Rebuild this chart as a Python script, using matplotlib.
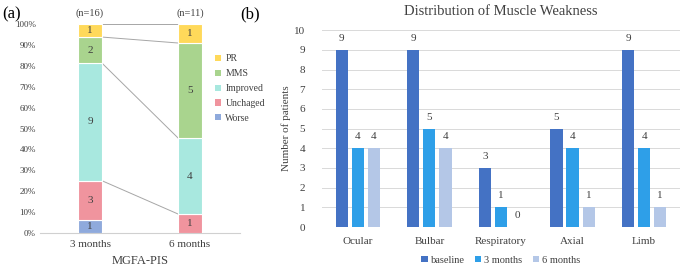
import matplotlib.pyplot as plt
import numpy as np
from matplotlib.patches import Patch

plt.rcParams['font.family'] = ['Liberation Serif', 'DejaVu Serif']

# Panel (a) data: MGFA-PIS counts
timepoints = ['3 months', '6 months']
n_totals = [16, 11]
pis_labels = ['Worse', 'Unchaged', 'Improved', 'MMS', 'PR']
pis_counts = {
    'Worse': [1, 0],
    'Unchaged': [3, 1],
    'Improved': [9, 4],
    'MMS': [2, 5],
    'PR': [1, 1],
}
pis_colors = {
    'Worse': '#8FAADC',
    'Unchaged': '#F0949E',
    'Improved': '#A8E8DF',
    'MMS': '#A9D48E',
    'PR': '#FFD95A',
}

# Panel (b) data: distribution of muscle weakness
regions = ['Ocular', 'Bulbar', 'Respiratory', 'Axial', 'Limb']
baseline = [9, 9, 3, 5, 9]
m3 = [4, 5, 1, 4, 4]
m6 = [4, 4, 0, 1, 1]
series_names = ['baseline', '3 months', '6 months']
series_colors = ['#4472C4', '#2E9FE8', '#B4C7E7']

fig = plt.figure(figsize=(6.82, 2.69), dpi=100)

# ---------------- panel (a) ----------------
axa = fig.add_axes([0.0587, 0.1338, 0.2933, 0.777])
x = np.arange(len(timepoints))
bw = 0.24
bottoms = np.zeros(len(timepoints))
bounds = []
for lab in pis_labels:
    frac = np.array(pis_counts[lab]) / np.array(n_totals) * 100
    axa.bar(x, frac, bw, bottom=bottoms, color=pis_colors[lab],
            edgecolor='white', linewidth=0.8, zorder=3)
    for i in range(len(x)):
        if pis_counts[lab][i] > 0:
            axa.text(x[i], bottoms[i] + frac[i] / 2, str(pis_counts[lab][i]),
                     ha='center', va='center', fontsize=8, color='#404040', zorder=4)
    bottoms = bottoms + frac
    bounds.append(bottoms.copy())

# connector lines between segment boundaries (skip the first, as in the original)
for b in bounds[1:]:
    axa.plot([x[0] + bw / 2, x[1] - bw / 2], [b[0], b[1]],
             color='#A6A6A6', linewidth=0.7, zorder=2)

for i in range(len(x)):
    axa.text(x[i], 103, f'(n={n_totals[i]})', ha='center', va='bottom',
             fontsize=7.5, color='#404040', clip_on=False)

axa.set_xlim(-0.5, 1.5)
axa.set_ylim(0, 100)
axa.set_yticks(np.arange(0, 101, 10))
axa.set_yticklabels([f'{v}%' for v in range(0, 101, 10)], fontsize=6.5, color='#404040')
axa.set_xticks(x)
axa.set_xticklabels(timepoints, fontsize=8, color='#404040')
axa.tick_params(length=0, pad=3)
axa.tick_params(axis='x', pad=5)
for s in ['left', 'right', 'top']:
    axa.spines[s].set_visible(False)
axa.spines['bottom'].set_color('#D0D0D0')
axa.set_xlabel('MGFA-PIS', fontsize=9, color='#404040', labelpad=4)

handles_a = [Patch(facecolor=pis_colors[l], edgecolor='none') for l in pis_labels[::-1]]
fig.legend(handles_a, pis_labels[::-1], loc='upper left',
           bbox_to_anchor=(0.302, 0.83), frameon=False, fontsize=7,
           handlelength=0.6, handleheight=0.6, handletextpad=0.5,
           labelspacing=0.6, labelcolor='#404040')

fig.text(0.003, 0.948, '(a)', fontsize=12, va='center')

# ---------------- panel (b) ----------------
axb = fig.add_axes([0.472, 0.156, 0.525, 0.732])
xb = np.arange(len(regions))
w = 0.17
gap = 0.055
for k, (vals, name, col) in enumerate(zip([baseline, m3, m6], series_names, series_colors)):
    pos = xb + (k - 1) * (w + gap)
    axb.bar(pos, vals, w, color=col, label=name, zorder=3)
    for p, v in zip(pos, vals):
        axb.text(p, v + 0.35, str(v), ha='center', va='bottom', fontsize=8, color='#404040')

axb.set_xlim(-0.5, len(regions) - 0.5)
axb.set_ylim(0, 10)
axb.set_yticks(range(0, 11))
axb.set_yticklabels([str(v) for v in range(0, 11)], fontsize=8, color='#404040')
axb.set_xticks(xb)
axb.set_xticklabels(regions, fontsize=8, color='#404040')
axb.tick_params(length=0)
axb.tick_params(axis='y', pad=12)
axb.tick_params(axis='x', pad=7)
axb.grid(axis='y', color='#D9D9D9', linewidth=0.7, zorder=0)
for s in ['left', 'right', 'top', 'bottom']:
    axb.spines[s].set_visible(False)
axb.set_ylabel('Number of patients', fontsize=8, color='#404040', labelpad=2)
axb.set_title('Distribution of Muscle Weakness', fontsize=10.5, color='#404040', pad=11)
axb.legend(loc='center', bbox_to_anchor=(0.5, -0.168), ncol=3, frameon=False,
           fontsize=7.5, handlelength=0.6, handleheight=0.6, handletextpad=0.3,
           columnspacing=1.0, labelcolor='#404040')

fig.text(0.352, 0.948, '(b)', fontsize=12, va='center')

fig.savefig('out.png', dpi=100)
